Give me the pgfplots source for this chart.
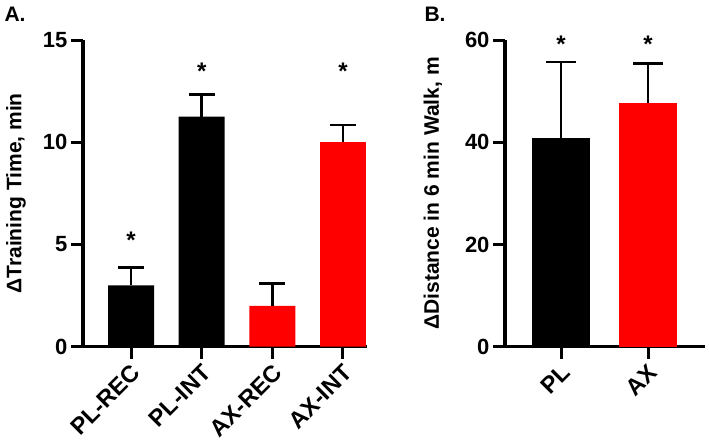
\documentclass[border=0pt]{standalone}
\usepackage{fontspec}
\setmainfont{Liberation Sans}
\usepackage{pgfplots}
\pgfplotsset{compat=1.18}
\definecolor{barred}{RGB}{255,0,0}
\begin{document}
\begin{tikzpicture}
\path (0pt,0pt) rectangle (709pt,440pt);
\pgfplotsset{
  panel/.style={
    scale only axis,
    axis lines*=left,
    axis line style={line width=3.3pt,-,black},
    major tick style={line width=3pt,black},
    major tick length=12pt,
    tick align=outside,
    /pgf/number format/assume math mode=true,
    yticklabel style={font=\fontsize{22}{22}\selectfont\bfseries},
    xticklabel style={font=\fontsize{23.5}{23.5}\selectfont\bfseries, rotate=45, anchor=north east, inner sep=0.5pt, xshift=-3pt, yshift=-2pt},
    every axis y label/.style={at={(axis description cs:0,0.5)}, rotate=90, anchor=center,
      font=\fontsize{21}{21}\selectfont\bfseries},
    ymin=0,
  },
  errs/.style={
    error bars/.cd, y dir=plus, y explicit, error mark=|,
    error bar style={line width=2.5pt,black},
    error mark options={line width=2.5pt,black,mark size=#1},
    /pgfplots/.cd,
  },
  errs/.default=13pt,
  stars/.style={draw=none, mark=none, nodes near coords={*},
    every node near coord/.append style={anchor=center, font=\fontsize{24}{24}\selectfont\bfseries}},
}
\node[anchor=base west, font=\fontsize{21}{21}\selectfont\bfseries] at (1pt,418pt) {A.};
\node[anchor=base west, font=\fontsize{21}{21}\selectfont\bfseries] at (421pt,418pt) {B.};
\begin{axis}[panel, at={(83pt,93.3pt)}, anchor=south west, width=284pt, height=306.7pt,
  xmin=-0.68, xmax=3.34, ymax=15, ytick={0,5,10,15}, xtick={0,1,2,3},
  xticklabels={PL-REC,PL-INT,AX-REC,AX-INT},
  ylabel={ΔTraining Time, min},
  every axis y label/.append style={yshift=67pt}]
\addplot[ybar, bar width=0.65, fill=black, draw=none, errs] coordinates {(0,3.0) +- (0,0.87) (1,11.25) +- (0,1.08)};
\addplot[ybar, bar width=0.65, fill=barred, draw=none, errs] coordinates {(2,2.0) +- (0,1.1) (3,10.0) +- (0,0.85)};
\addplot[stars] coordinates {(0,5.2) (1,13.45) (3,13.45)};
\end{axis}
\begin{axis}[panel, at={(505pt,93.3pt)}, anchor=south west, width=200pt, height=306.7pt,
  xmin=-0.644, xmax=1.655, ymax=60, ytick={0,20,40,60}, xtick={0,1},
  xticklabels={PL,AX},
  ylabel={ΔDistance in 6 min Walk, m},
  every axis y label/.append style={yshift=72pt}]
\addplot[ybar, bar width=0.667, fill=black, draw=none, errs=15pt] coordinates {(0,40.8) +- (0,14.9)};
\addplot[ybar, bar width=0.667, fill=barred, draw=none, errs=15pt] coordinates {(1,47.75) +- (0,7.7)};
\addplot[stars] coordinates {(0,59.1) (1,59.1)};
\end{axis}
\end{tikzpicture}
\end{document}
